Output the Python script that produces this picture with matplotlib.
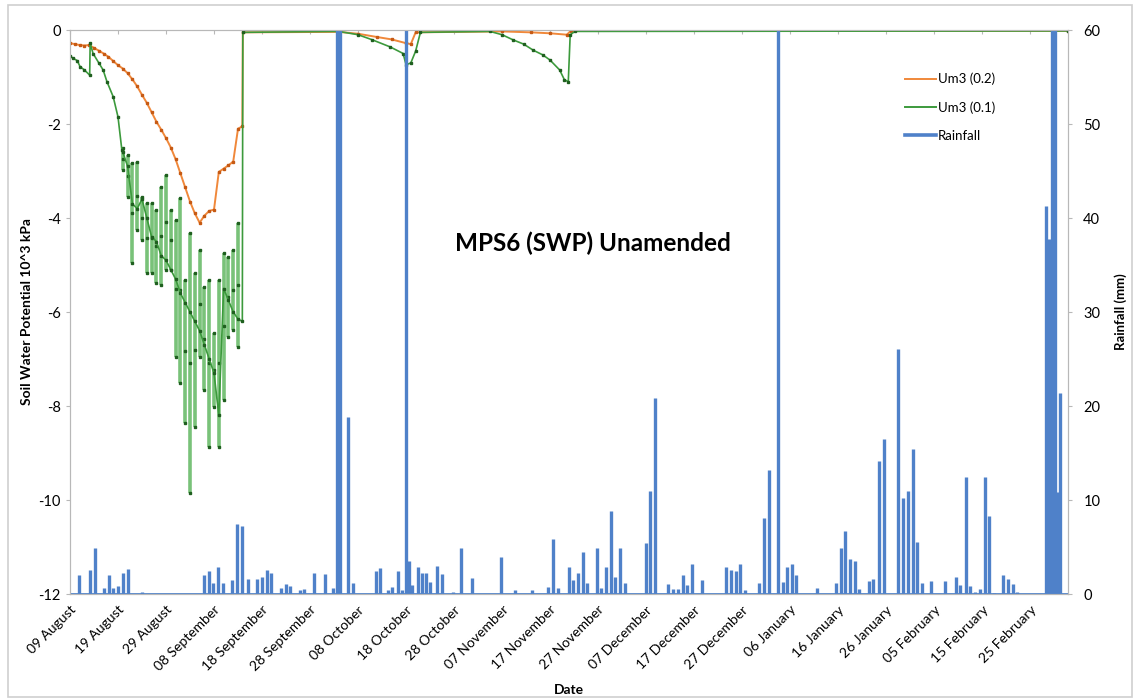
import matplotlib
matplotlib.use("Agg")
import matplotlib.pyplot as plt
from matplotlib.lines import Line2D
from matplotlib.patches import Rectangle
import numpy as np

plt.rcParams['font.family'] = ['Lato', 'DejaVu Sans']
plt.rcParams['axes.unicode_minus'] = False

# days since 09 August
tick_days = list(range(0, 201, 10))
tick_labels = ["09 August", "19 August", "29 August", "08 September", "18 September",
               "28 September", "08 October", "18 October", "28 October", "07 November",
               "17 November", "27 November", "07 December", "17 December", "27 December",
               "06 January", "16 January", "26 January", "05 February", "15 February",
               "25 February"]

# Um3 (0.2)
orange_day = [0, 1, 2, 3, 4, 5, 6, 7, 8, 9, 10, 11, 12, 13, 14, 15, 16, 17, 18, 19, 20,
              21, 22, 23, 24, 25, 26, 27, 28, 29, 30, 31, 32, 33, 34, 35, 35.9, 36,
              56, 60, 64, 67, 70, 71, 72, 90, 96, 100, 103.5, 104.3, 207.9]
orange_kpa = [-0.28, -0.30, -0.32, -0.33, -0.32, -0.38, -0.44, -0.50, -0.57, -0.66, -0.75,
              -0.82, -0.92, -1.05, -1.20, -1.38, -1.55, -1.75, -1.95, -2.12, -2.30,
              -2.50, -2.75, -3.05, -3.35, -3.65, -3.90, -4.10, -3.95, -3.85, -3.82,
              -3.02, -2.95, -2.88, -2.80, -2.10, -2.05, -0.05,
              -0.04, -0.08, -0.15, -0.20, -0.28, -0.30, -0.05, -0.03, -0.05, -0.07,
              -0.10, -0.02, -0.02]

# Um3 (0.1) main trace
green_day = [0, 0.6, 1.5, 2.1, 3, 4.1, 4.2, 4.8, 6, 6.9, 7.7, 9, 10, 10.8,
             11, 12, 13, 14, 15, 16, 17, 18, 19, 20, 21, 22, 23, 24, 25, 26, 27, 28,
             29, 30, 31, 32, 33, 34, 35, 35.9, 36,
             56, 60, 63, 66.7, 69.4, 70, 71, 72, 73, 87.5, 90, 92.3, 94.5, 96.5, 98.5,
             100, 102, 103, 103.8, 104.2, 105.2, 207.9]
green_kpa = [-0.55, -0.60, -0.65, -0.78, -0.85, -0.96, -0.28, -0.50, -0.70, -0.85, -1.10,
             -1.42, -1.85, -2.55,
             -2.60, -2.90, -3.70, -3.80, -3.60, -4.00, -4.40, -4.50, -4.80, -4.90, -5.10,
             -5.30, -5.60, -5.80, -6.00, -6.20, -6.40, -6.70, -7.00, -7.30, -8.20, -5.50,
             -5.75, -6.00, -6.15, -6.20, -0.05,
             -0.03, -0.10, -0.21, -0.36, -0.50, -0.74, -0.70, -0.45, -0.05, -0.03, -0.10,
             -0.21, -0.30, -0.43, -0.53, -0.64, -0.85, -1.06, -1.10, -0.10, -0.03, -0.02]

# Um3 (0.1) daily swings
swing_day = [11, 12, 13, 14, 15, 16, 17, 18, 19, 20, 21, 22, 23, 24, 25, 26, 27, 28,
             29, 30, 31, 32, 33, 34, 35]
swing_hi = [-2.51, -2.66, -2.83, -2.80, -3.55, -3.68, -3.68, -3.83, -3.34, -3.09, -3.83,
            -4.04, -3.57, -5.32, -4.32, -5.17, -4.68, -5.47, -5.32, -6.45, -5.32, -4.74,
            -4.83, -4.68, -4.10]
swing_lo = [-2.98, -3.55, -4.96, -4.26, -4.47, -5.17, -5.17, -5.38, -5.43, -5.10, -5.10,
            -6.96, -7.51, -8.36, -9.85, -8.45, -6.96, -7.66, -8.87, -8.02, -8.87, -7.87,
            -6.53, -6.38, -6.74]

# Rainfall (mm)
rain_day = [0, 1.9, 4.2, 5.2, 7.1, 8.1, 9.0, 10.0, 11.0, 12.1, 15.0, 27.9, 29.0, 29.8,
            30.8, 31.9, 33.75, 34.8, 35.8, 37.1, 39.0, 40.0, 41.0, 41.9, 44.0, 45.0,
            45.8, 47.9, 48.75, 50.8, 53.1, 54.8, 55.6, 56.25, 57.9, 59.0, 63.75, 64.6,
            66.25, 67.1, 68.3, 69.2, 70.0, 70.6, 71.25, 72.5, 73.3, 74.2, 75.0, 76.5,
            77.5, 79.8, 81.5, 83.75, 89.8, 92.7, 96.25, 99.6, 100.6, 101.7, 104.0,
            104.8, 105.8, 106.9, 107.7, 109.8, 110.6, 111.7, 112.7, 113.5, 114.6,
            115.6, 120.0, 120.8, 121.9, 124.6, 125.6, 126.7, 127.7, 128.5, 129.6,
            131.7, 136.7, 137.7, 138.75, 139.6, 140.6, 143.5, 144.6, 145.6, 147.5,
            148.5, 149.4, 150.4, 151.25, 155.6, 159.6, 160.6, 161.5, 162.5, 163.5,
            164.4, 166.5, 167.3, 168.5, 169.6, 172.5, 173.5, 174.6, 175.6, 176.5,
            177.5, 179.4, 182.3, 184.6, 185.4, 186.7, 187.5, 188.5, 189.6, 190.6,
            191.5, 192.5, 194.4, 195.4, 196.5, 197.3, 203.3, 204.0, 204.6, 205.2,
            205.6, 206.25, 207.9]
rain_mm = [0, 2.0, 2.6, 4.9, 0.6, 2.0, 0.6, 0.8, 2.2, 2.7, 0.2, 2.0, 2.4, 1.2,
           2.9, 1.2, 1.5, 7.5, 7.2, 1.6, 1.6, 1.8, 2.6, 2.2, 0.6, 1.1,
           0.8, 0.4, 0.5, 2.2, 2.1, 0.6, 65, 65, 18.8, 1.2, 2.5, 2.8,
           0.4, 0.7, 2.5, 0.4, 65, 3.5, 1.0, 2.9, 2.2, 2.2, 1.3, 3.0,
           2.1, 0.2, 4.9, 1.7, 3.9, 0.4, 0.4, 0.7, 5.9, 0.6, 2.9,
           1.5, 2.2, 4.5, 1.2, 4.9, 0.6, 2.9, 8.8, 1.8, 4.9,
           1.2, 5.4, 11.0, 20.8, 1.1, 0.5, 0.5, 2.0, 1.0, 3.2,
           1.5, 2.9, 2.6, 2.4, 3.2, 0.4, 1.2, 8.1, 13.2, 65,
           1.3, 2.9, 3.2, 2.0, 0.6, 1.2, 4.9, 6.7, 3.7, 3.5,
           0.5, 1.4, 1.6, 14.1, 16.5, 26.1, 10.2, 11.0, 15.4, 5.5,
           1.2, 1.4, 1.4, 1.8, 1.0, 12.5, 0.9, 0.2, 0.5, 12.5,
           8.3, 0.1, 2.0, 1.6, 1.1, 0.2, 41.3, 37.8, 65, 65,
           10.8, 21.4, 0]

c_orange = '#f0883a'
c_green = '#3c9a3c'
c_green_light = '#79c279'
c_green_dark = '#1f5f1f'
c_blue = '#4f81c9'
c_axis = '#b8b8b8'

fig = plt.figure(figsize=(11.4, 7.0), dpi=100)
ax = fig.add_axes([70 / 1140, 1 - 594 / 700, 998 / 1140, 564 / 700])

ax.vlines(swing_day, swing_lo, swing_hi, color=c_green_light, lw=2.6, zorder=2)
ax.plot(swing_day, swing_hi, ls='none', marker='s', ms=1.8, color=c_green_dark, zorder=3)
ax.plot(swing_day, swing_lo, ls='none', marker='s', ms=1.8, color=c_green_dark, zorder=3)
ax.plot(swing_day, np.add(swing_hi, swing_lo) / 2, ls='none', marker='s', ms=1.6,
        color=c_green_dark, zorder=3)
ax.plot(orange_day, orange_kpa, color=c_orange, lw=1.4, marker='s', ms=1.5,
        mfc='#c65a14', mec='#c65a14', zorder=4)
ax.plot(green_day, green_kpa, color=c_green, lw=1.2, marker='s', ms=1.5,
        mfc=c_green_dark, mec=c_green_dark, zorder=4)

ax.set_xlim(0, 207.9)
ax.set_ylim(-12, 0)
ax.set_yticks(range(-12, 1, 2))
ax.set_xticks(tick_days)
ax.set_xticklabels(tick_labels, rotation=45, ha='right', va='top',
                   rotation_mode='anchor', fontsize=10)
ax.tick_params(axis='x', top=True, bottom=False, direction='in', length=3,
               color=c_axis, pad=7)
ax.tick_params(axis='y', direction='out', length=3, color=c_axis, labelsize=10.5)
for s in ax.spines.values():
    s.set_color(c_axis)
ax.set_ylabel("Soil Water Potential 10^3 kPa", fontsize=10, fontweight='bold', labelpad=4)
ax.set_xlabel("Date", fontsize=10, fontweight='bold', labelpad=8)

ax2 = ax.twinx()
markerline, stemlines, baseline = ax2.stem(rain_day, rain_mm, linefmt='-', markerfmt=' ',
                                           basefmt='-')
plt.setp(stemlines, color=c_blue, linewidth=2.4)
plt.setp(baseline, color=c_blue, linewidth=2.0)
ax2.set_ylim(0, 60)
ax2.set_yticks(range(0, 61, 10))
ax2.tick_params(axis='y', direction='out', length=3, color=c_axis, labelsize=10.5, pad=8)
for s in ax2.spines.values():
    s.set_color(c_axis)
ax2.set_ylabel("Rainfall (mm)", fontsize=9.5, fontweight='bold', labelpad=10)

ax2.text(0.524, 0.622, "MPS6 (SWP) Unamended", transform=ax2.transAxes,
         ha='center', va='center', fontsize=17.5, fontweight='bold')

handles = [Line2D([], [], color=c_orange, lw=1.4),
           Line2D([], [], color=c_green, lw=1.4),
           Line2D([], [], color=c_blue, lw=2.6)]
ax2.legend(handles, ["Um3 (0.2)", "Um3 (0.1)", "Rainfall"], loc='upper left',
           bbox_to_anchor=(0.825, 0.945), frameon=False, fontsize=9.5,
           handlelength=2.3, handletextpad=0.2, labelspacing=1.2)

fig.patches.append(Rectangle((8 / 1140, 3 / 700), 1124 / 1140, 692 / 700,
                             transform=fig.transFigure, fill=False,
                             edgecolor='#cfcfcf', lw=1.2))

fig.savefig("out.png", dpi=100)
